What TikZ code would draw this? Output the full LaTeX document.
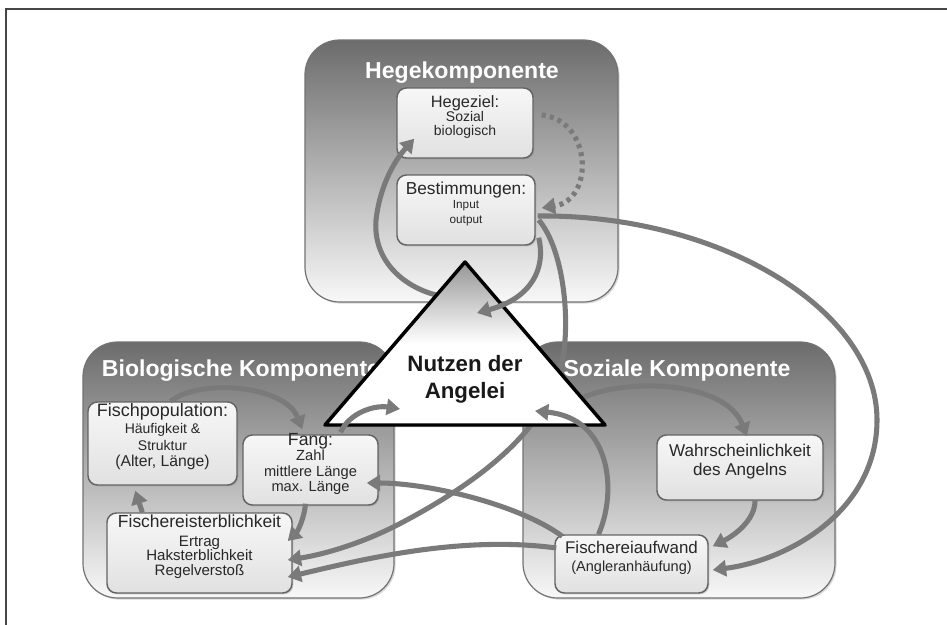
\documentclass[tikz,border=0pt]{standalone}
\usepackage{fontspec}
\setmainfont{Liberation Sans}
\usetikzlibrary{arrows.meta,fit,calc,shadows}
\definecolor{arrowgray}{RGB}{122,122,122}
\definecolor{compTop}{RGB}{108,108,108}
\definecolor{compBot}{RGB}{248,248,248}
\definecolor{compEdge}{RGB}{115,115,115}
\definecolor{boxTop}{RGB}{247,247,247}
\definecolor{boxBot}{RGB}{225,225,225}
\definecolor{boxEdge}{RGB}{100,100,100}
\definecolor{txtgray}{RGB}{40,40,40}
\definecolor{framegray}{RGB}{70,70,70}
\definecolor{triTop}{RGB}{150,150,150}
\begin{document}
\begin{tikzpicture}[x=0.75pt,y=-0.75pt,
  comp/.style={draw=compEdge, line width=0.9pt, rounded corners=26pt,
    top color=compTop, bottom color=compBot, inner sep=0pt,
    drop shadow={shadow xshift=1.2pt,shadow yshift=-1.2pt,opacity=0.3}},
  inbox/.style={draw=boxEdge, line width=1.1pt, rounded corners=7pt,
    top color=boxTop, bottom color=boxBot, inner sep=0pt, align=center, text=txtgray,
    drop shadow={shadow xshift=1pt,shadow yshift=-1pt,opacity=0.35}},
  comptitle/.style={text=white, font=\bfseries\fontsize{17.3}{20}\selectfont, anchor=base, inner sep=0pt},
  arr/.style={draw=arrowgray, line width=3.8pt, -{Triangle[length=10pt,width=12pt]}},
  dotarr/.style={arr, line cap=butt, dash pattern=on 3pt off 3.2pt},
]
\useasboundingbox (0,0) rectangle (947,625);
\fill[white] (0,0) rectangle (947,625);
% frame
\draw[framegray, line width=1.5pt] (6,625) -- (6,9) -- (947,9);

% components
\node[comp, fit={(305,40) (618,302)}] (hege) {};
\node[comp, fit={(83,342) (394,598)}] (bio) {};
\node[comp, fit={(523,342) (835,598)}] (soz) {};
\node[comptitle] (hegetitle) at (462,78) {Hegekomponente};
\node[comptitle] (biotitle) at (241,376) {Biologische Komponente};
\node[comptitle] (soztitle) at (677,376) {Soziale Komponente};

% inner boxes
\node[inbox, fit={(397,88) (533,158)}, font=\fontsize{10.5}{10.5}\selectfont] (hz)
  {{\fontsize{12.3}{13}\selectfont Hegeziel:}\\Sozial\\biologisch};
\node[inbox, fit={(397,175) (535,245)}, font=\fontsize{8.8}{11}\selectfont] (best)
  {{\fontsize{13}{13}\selectfont Bestimmungen:}\\Input\\output};
\node[inbox, fit={(88,402) (237,485)}, font=\fontsize{10.5}{12.5}\selectfont] (fp)
  {{\fontsize{13.5}{13}\selectfont Fischpopulation:}\\H\"aufigkeit \&\\Struktur\\{\fontsize{11.8}{12}\selectfont (Alter, L\"ange)}};
\node[inbox, fit={(243,435) (378,505)}, font=\fontsize{11}{11.3}\selectfont] (fang)
  {{\fontsize{13.2}{13}\selectfont Fang:}\\Zahl\\mittlere L\"ange\\max. L\"ange};
\node[inbox, fit={(107,513) (292,593)}, font=\fontsize{11.3}{11}\selectfont] (fs)
  {{\fontsize{13.1}{13}\selectfont Fischereisterblichkeit}\\[3pt]Ertrag\\Haksterblichkeit\\Regelversto\ss};
\node[inbox, fit={(657,435) (823,500)}, font=\fontsize{12.8}{14.3}\selectfont] (wk)
  {Wahrscheinlichkeit\\des Angelns};
\node[inbox, fit={(555,535) (708,593)}, font=\fontsize{12.7}{13.5}\selectfont] (fa)
  {Fischereiaufwand\\{\fontsize{10.9}{12}\selectfont (Angleranh\"aufung)}};

% triangle corners
\coordinate (tA) at (465,262);
\coordinate (tL) at (325,425);
\coordinate (tR) at (605,425);
\coordinate (tmid) at (465,360);

% connectors passing behind the triangle
\draw[arr] ($(tmid)+(0,-62)$) .. controls (420,300) and (372,270) .. (376,220)
   .. controls (380,185) and (395,160) .. ($(hz.south west)+(18,-20)$);
\draw[arr] ($(best.east)+(3,10)$) .. controls (560,245) and (568,300) .. (565,340)
   .. controls (562,400) and (520,460) .. (403,522)
   .. controls (360,545) and (320,555) .. ($(fs.east)+(-5,7)$);
\draw[arr] ($(tR)+(-23,-27)$) .. controls (625,378) and (725,380) .. ($(wk.north)+(7,2)$);

% triangle
\path[top color=triTop, bottom color=white, middle color=white, draw=black,
  line width=2.6pt, line join=round,
  drop shadow={shadow xshift=1.5pt,shadow yshift=-1.5pt,opacity=0.4}]
  (tA) -- (tL) -- (tR) -- cycle;
\node[font=\bfseries\fontsize{16.7}{20}\selectfont, align=center, text=black!90] (nutzen) at (465,379)
  {Nutzen der\\Angelei};

% other connectors
\draw[dotarr] ($(hz.east)+(8,-8)$) .. controls (592,120) and (595,200) .. ($(best.east)+(6,-2)$);
\draw[arr] ($(best.east)+(2,6)$) .. controls (720,214) and (877,310) .. (877,420)
   .. controls (877,510) and (790,560) .. ($(fa.east)+(4,6)$);
\draw[arr] ($(best.south east)+(3,-8)$) .. controls (546,268) and (532,298) .. ($(nutzen)+(12,-66)$);
\draw[arr] ($(fa.west)+(2,-16)$) .. controls (460,535) and (360,560) .. ($(fs.east)+(-5,24)$);
\draw[arr] ($(fa.north west)+(8,2)$) .. controls (520,505) and (430,483) .. ($(fang.east)+(-12,13)$);
\draw[arr] ($(fang.south)+(-5,-2)$) .. controls (304,520) and (297,532) .. ($(fs.east)+(-5,-12)$);
\draw[arr] ($(fp.north)+(8,0)$) .. controls (200,378) and (285,385) .. ($(fang.north west)+(60,-5)$);
\draw[arr] ($(fs.north west)+(36,0)$) -- ($(fp.south west)+(48,5)$);
\draw[arr] ($(fang.north)+(30,-2)$) .. controls (350,412) and (375,405) .. ($(nutzen)+(-65,30)$);
\draw[arr] ($(fa.north)+(-33,0)$) .. controls (618,490) and (610,418) .. ($(nutzen)+(70,32)$);
\draw[arr] ($(wk.south)+(15,0)$) .. controls (755,520) and (735,535) .. ($(fa.north east)+(4,12)$);
\end{tikzpicture}
\end{document}
